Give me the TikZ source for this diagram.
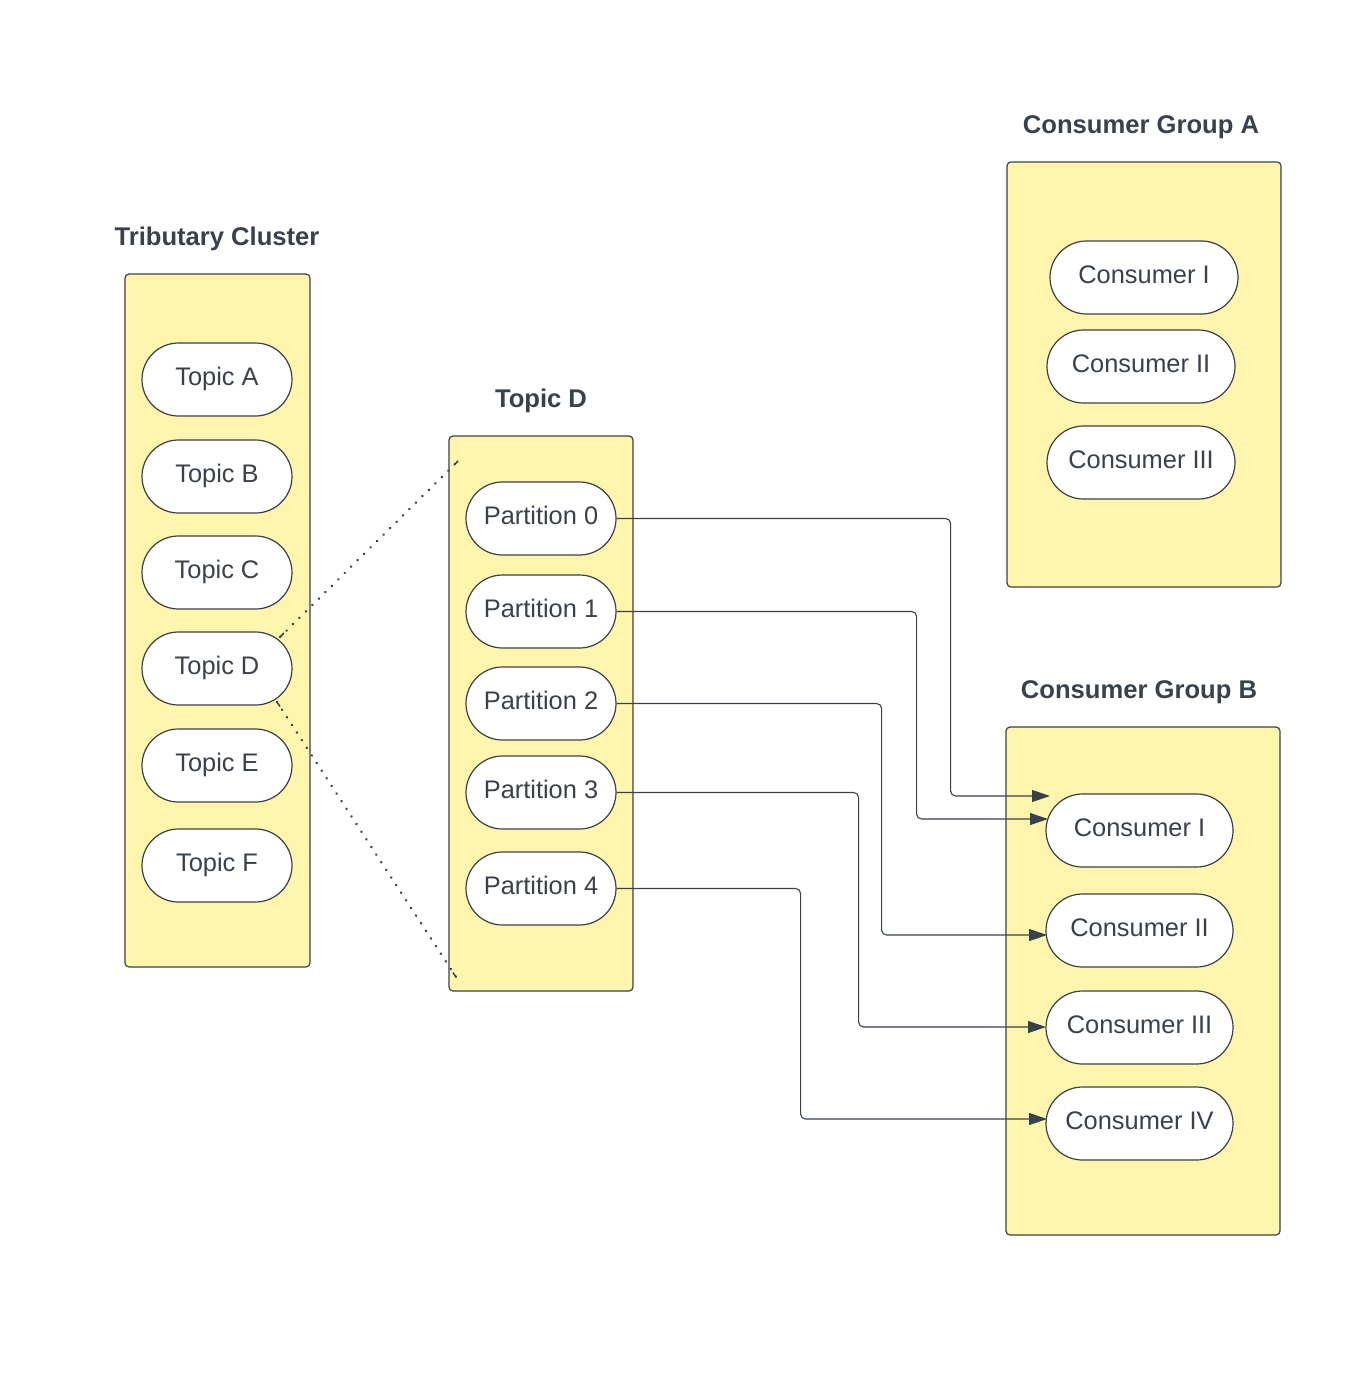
\documentclass[tikz,border=0pt]{standalone}
\usepackage{fontspec}
\setmainfont{Liberation Sans}
\usetikzlibrary{shapes.misc,arrows.meta}
\definecolor{ink}{HTML}{3A414A}
\definecolor{pad}{HTML}{FFF5AD}
\begin{document}
\begin{tikzpicture}[x=1pt,y=-1pt,
  font=\fontsize{25.4}{30}\selectfont, text=ink,
  panel/.style={draw=ink, fill=pad, line width=1.2pt, rounded corners=4pt,
    rectangle, inner sep=0pt},
  pill/.style={draw=ink, fill=white, line width=1.2pt, rounded rectangle,
    minimum width=150pt, minimum height=73pt, inner sep=0pt,
    text height=16pt, text depth=5pt},
  wide/.style={pill, minimum width=188pt},
  heading/.style={font=\bfseries\fontsize{25.6}{30}\selectfont},
  flow/.style={draw=ink, line width=1.1pt, rounded corners=5pt,
    -{Triangle[length=18pt,width=12pt]}},
  link/.style={draw=ink, line width=2.7pt, dash pattern=on 0.1pt off 9pt,
    line cap=round}
]
\useasboundingbox (0,0) rectangle (1370,1380);
\fill[white] (0,0) rectangle (1370,1380);

% containers
\node[panel, minimum width=185pt, minimum height=693pt] (tc) at (217.5,620.5) {};
\node[panel, minimum width=184pt, minimum height=555pt] (td) at (541,713.5) {};
\node[panel, minimum width=274pt, minimum height=425pt] (ga) at (1144,374.5) {};
\node[panel, minimum width=274pt, minimum height=508pt] (gb) at (1143,981) {};

% headings
\node[heading] (tcl) at (217,239) {Tributary Cluster};
\node[heading] (tdl) at (541,401) {Topic D};
\node[heading] (gal) at (1141,127) {Consumer Group A};
\node[heading] (gbl) at (1139,692) {Consumer Group B};

% topics
\node[pill] (tA) at (217,379.5) {Topic A};
\node[pill] (tB) at (217,476.5) {Topic B};
\node[pill] (tC) at (217,572.5) {Topic C};
\node[pill] (tD) at (217,668.5) {Topic D};
\node[pill] (tE) at (217,765.5) {Topic E};
\node[pill] (tF) at (217,865.5) {Topic F};

% partitions
\node[pill] (p0) at (541,518.5) {Partition 0};
\node[pill] (p1) at (541,611.5) {Partition 1};
\node[pill] (p2) at (541,703.5) {Partition 2};
\node[pill] (p3) at (541,792.5) {Partition 3};
\node[pill] (p4) at (541,888.5) {Partition 4};

% consumer group A
\node[wide] (a1) at (1144,277.5) {Consumer I};
\node[wide] (a2) at (1141,366.5) {Consumer II};
\node[wide] (a3) at (1141,462.5) {Consumer III};

% consumer group B
\node[wide, minimum width=187pt] (b1) at (1139.5,830.5) {Consumer I};
\node[wide, minimum width=187pt] (b2) at (1139.5,930.5) {Consumer II};
\node[wide, minimum width=187pt] (b3) at (1139.5,1027.5) {Consumer III};
\node[wide, minimum width=187pt] (b4) at (1139.5,1123.5) {Consumer IV};

% expansion of Topic D
\coordinate (dU) at (280,637);
\coordinate (dL) at (277,702);
\coordinate (eU) at (458,461);
\coordinate (eL) at (456,977);
\draw[link] (dU) -- (eU);
\draw[link] (dL) -- (eL);
\draw[ink, line width=1.5pt] (dU) -- ++(4,-4);
\draw[ink, line width=1.5pt] (eU) -- ++(-4,4);
\draw[ink, line width=1.5pt] (dL) -- ++(3,4.5);
\draw[ink, line width=1.5pt] (eL) -- ++(-3,-4.5);

% partition assignments
\coordinate (q0) at (1050,796);
\coordinate (q1) at (1048,819);
\coordinate (q2) at (1047,935);
\coordinate (q3) at (1046,1027);
\coordinate (q4) at (1047,1119);
\draw[flow] (p0.east) -- ++(334,0) |- (q0);
\draw[flow] (p1.east) -- ++(300,0) |- (q1);
\draw[flow] (p2.east) -- ++(265,0) |- (q2);
\draw[flow] (p3.east) -- ++(242,0) |- (q3);
\draw[flow] (p4.east) -- ++(184,0) |- (q4);
\end{tikzpicture}
\end{document}
